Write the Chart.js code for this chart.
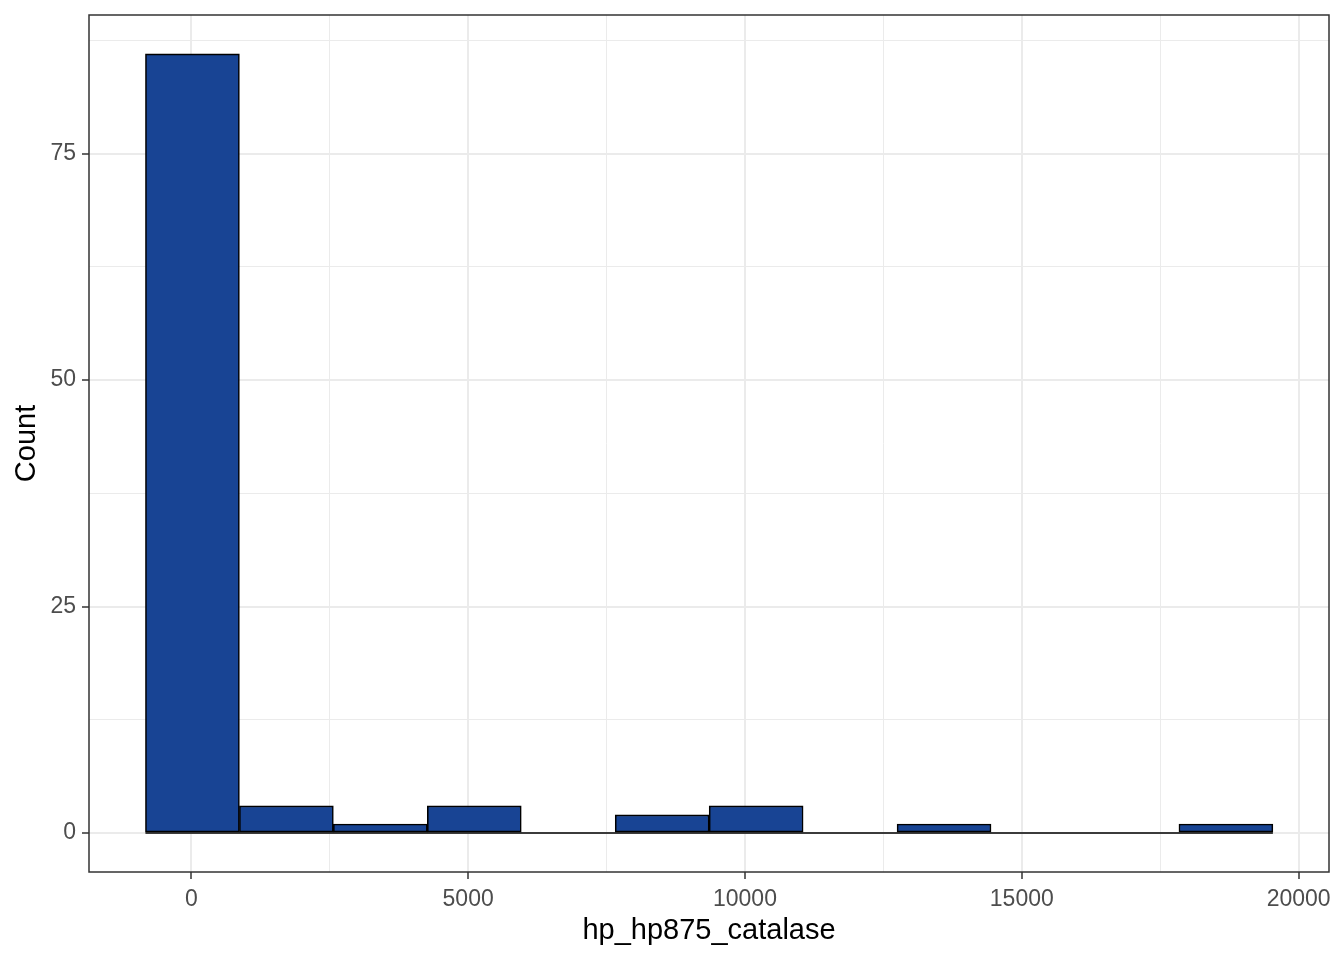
<!DOCTYPE html>
<html>
<head>
<meta charset="utf-8">
<script src="https://cdn.jsdelivr.net/npm/chart.js@4/dist/chart.umd.min.js"></script>
<style>
  body { margin: 0; background: #ffffff; }
  #wrap { width: 1344px; height: 960px; }
</style>
</head>
<body>
<div id="wrap"><canvas id="myChart" width="1344" height="960"></canvas></div>
<script>
// histogram of hp_hp875_catalase, 12 bins
var bin_centers = [20, 1717, 3414, 5111, 6808, 8505, 10202, 11899, 13596, 15293, 16990, 18687]
var bin_width = 1697
var counts = [86, 3, 1, 3, 0, 2, 3, 0, 1, 0, 0, 1]

var x_title = 'hp_hp875_catalase'
var y_title = 'Count'

var bars = []
for (var i = 0; i < bin_centers.length; i++) {
    bars.push({x: bin_centers[i], y: counts[i]})
}
// baseline drawn under empty bins, like geom_histogram does
var baseline = [
    {x: bin_centers[0] - bin_width / 2, y: 0},
    {x: bin_centers[bin_centers.length - 1] + bin_width / 2, y: 0}
]

var fontFamily = "'Liberation Sans', Arial, sans-serif"

function isMajor(v, step) {
    return Math.abs(v / step - Math.round(v / step)) < 1e-6
}

var panelBorder = {
    id: 'panelBorder',
    afterDraw: function (chart) {
        var a = chart.chartArea
        var c = chart.ctx
        c.save()
        c.strokeStyle = '#333333'
        c.lineWidth = 1.5
        c.strokeRect(a.left, a.top, a.right - a.left, a.bottom - a.top)
        c.restore()
    }
}

var ctx = document.getElementById('myChart').getContext('2d');
var myChart = new Chart(ctx, {
    type: 'bar',
    data: {
        datasets: [{
            type: 'line',
            data: baseline,
            borderColor: '#000000',
            borderWidth: 1.5,
            pointRadius: 0,
            fill: false,
            order: 2
        }, {
            type: 'bar',
            data: bars,
            backgroundColor: '#184494',
            borderColor: '#000000',
            borderWidth: 1.6,
            borderSkipped: false,
            barPercentage: 1,
            categoryPercentage: 1,
            grouped: false,
            order: 1
        }]
    },
    options: {
        responsive: false,
        animation: false,
        layout: {autoPadding: false, padding: {top: 15, right: 15, left: 0, bottom: 0}},
        plugins: {
            legend: {display: false},
            tooltip: {enabled: false}
        },
        scales: {
            x: {
                type: 'linear',
                offset: false,
                min: -1848,
                max: 20549,
                afterBuildTicks: function (s) {
                    s.ticks = []
                    for (var v = 0; v <= 20000; v += 2500) s.ticks.push({value: v})
                },
                afterFit: function (s) {
                    s.height = 88
                    s.paddingLeft = 0
                    s.paddingRight = 0
                },
                border: {display: false},
                grid: {
                    offset: false,
                    color: '#EBEBEB',
                    lineWidth: function (c) { return isMajor(c.tick.value, 5000) ? 2 : 1 },
                    tickLength: 7,
                    tickWidth: 1.5,
                    tickColor: function (c) { return isMajor(c.tick.value, 5000) ? '#333333' : 'rgba(0,0,0,0)' }
                },
                ticks: {
                    autoSkip: false,
                    maxRotation: 0,
                    padding: 7,
                    color: '#4D4D4D',
                    font: {family: fontFamily, size: 23},
                    callback: function (v) { return isMajor(v, 5000) ? String(v) : '' }
                },
                title: {
                    display: true,
                    text: x_title,
                    color: '#000000',
                    font: {family: fontFamily, size: 29, lineHeight: 1.2},
                    padding: {top: 12, bottom: 12}
                }
            },
            y: {
                type: 'linear',
                min: -4.3,
                max: 90.3,
                afterBuildTicks: function (s) {
                    s.ticks = []
                    for (var v = 0; v <= 87.5; v += 12.5) s.ticks.push({value: v})
                },
                afterFit: function (s) {
                    s.width = 89
                    s.paddingTop = 0
                    s.paddingBottom = 0
                },
                border: {display: false},
                grid: {
                    color: '#EBEBEB',
                    lineWidth: function (c) { return isMajor(c.tick.value, 25) ? 2 : 1 },
                    tickLength: 7,
                    tickWidth: 1.5,
                    tickColor: function (c) { return isMajor(c.tick.value, 25) ? '#333333' : 'rgba(0,0,0,0)' }
                },
                ticks: {
                    autoSkip: false,
                    padding: 6,
                    color: '#4D4D4D',
                    font: {family: fontFamily, size: 23},
                    callback: function (v) { return isMajor(v, 25) ? String(v) : '' }
                },
                title: {
                    display: true,
                    text: y_title,
                    color: '#000000',
                    font: {family: fontFamily, size: 29, lineHeight: 1.2},
                    padding: {top: 10, bottom: 10}
                }
            }
        }
    },
    plugins: [panelBorder]
});
</script>
</body>
</html>
